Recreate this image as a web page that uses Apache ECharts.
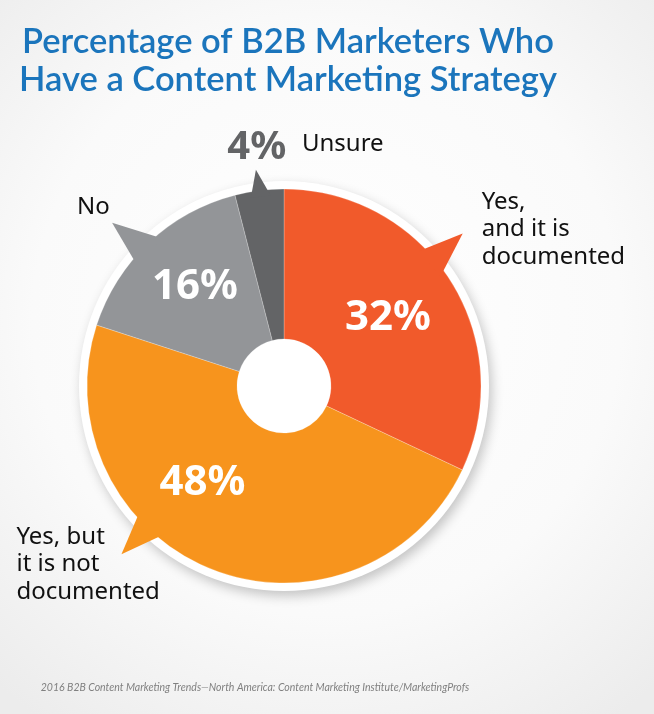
<!DOCTYPE html>
<html>
<head>
<meta charset="utf-8">
<script src="https://cdn.jsdelivr.net/npm/echarts@6/dist/echarts.min.js"></script>
<style>
  html, body { margin: 0; padding: 0; }
  #chart { width: 654px; height: 714px; }
</style>
</head>
<body>
<div id="chart"></div>
<script>
// data
const categories = ["Yes, and it is documented", "Yes, but it is not documented", "No", "Unsure"];
const share = [32, 48, 16, 4];
const labelLines = ["Yes,\nand it is\ndocumented", "Yes, but\nit is not\ndocumented", "No", "Unsure"];
const colors = ["#F15A2B", "#F7941D", "#939598", "#636466"];

// layout (pie center / radius, pointer + label placement)
const cx = 284, cy = 386, R = 197, r0 = 47;
const pointerAngle = [40, 226, 135, 97];
const tipShift = [0.5, 0, 1.5, 0.4];
const pointerHalf = [5, 5, 5.5, 3];
const pointerReach = [235, 234, 237, 218];
const pctAngle = [33, 230, 132, 96.5];
const pctRadius = [124, 127, 133, 240];
const nameOffset = [[19, -45], [-105, -31], [-35, -29], [46, -39]];

function polar(deg, rad) {
  const a = deg * Math.PI / 180;
  return [cx + rad * Math.cos(a), cy - rad * Math.sin(a)];
}

const chart = echarts.init(document.getElementById("chart"));

const renderPointer = (params, api) => {
  const i = params.dataIndex;
  const pa = pointerAngle[i];
  const tip = polar(pa + tipShift[i], pointerReach[i]);
  const p = polar(pctAngle[i], pctRadius[i]);
  const outside = i === 3;
  return {
    type: "group",
    children: [
      {
        type: "polygon",
        shape: { points: [polar(pa - pointerHalf[i], R - 6), tip, polar(pa + pointerHalf[i], R - 6)] },
        style: { fill: colors[i] },
      },
      {
        type: "text",
        z2: 10,
        style: {
          x: p[0], y: p[1],
          text: api.value(0) + "%",
          align: "center", verticalAlign: "middle",
          fill: outside ? colors[i] : "#fff",
          font: (outside ? "bold 40px" : "bold 42px") + " 'Noto Sans'",
        },
      },
      {
        type: "text",
        style: {
          x: tip[0] + nameOffset[i][0], y: tip[1] + nameOffset[i][1],
          text: labelLines[i],
          align: "left", verticalAlign: "top",
          lineHeight: 27.5,
          fill: "#111",
          font: "24px 'Noto Sans'",
        },
      },
    ],
  };
};

const option = {
  animation: false,
  backgroundColor: new echarts.graphic.RadialGradient(0.5, 0.45, 0.75, [
    { offset: 0, color: "#ffffff" },
    { offset: 0.6, color: "#fafafa" },
    { offset: 1, color: "#ececec" },
  ]),
  title: [
    {
      text: "Percentage of B2B Marketers Who\nHave a Content Marketing Strategy",
      left: 288,
      top: 23,
      padding: 0,
      textAlign: "center",
      textStyle: {
        color: "#1B75BC",
        fontFamily: "Lato",
        fontWeight: 600,
        fontSize: 34.5,
        lineHeight: 38,
      },
    },
    {
      text: "2016 B2B Content Marketing Trends\u2014North America: Content Marketing Institute/MarketingProfs",
      left: 255,
      top: 682,
      padding: 0,
      textAlign: "center",
      textStyle: {
        color: "#808080",
        fontFamily: "Lato",
        fontStyle: "italic",
        fontWeight: "normal",
        fontSize: 10.5,
        lineHeight: 12,
      },
    },
  ],
  graphic: [
    {
      type: "circle",
      z: 0,
      shape: { cx: cx, cy: cy, r: R + 8 },
      style: {
        fill: "#fff",
        shadowBlur: 12,
        shadowColor: "rgba(0,0,0,0.22)",
        shadowOffsetX: 3,
        shadowOffsetY: 5,
      },
    },
  ],
  series: [
    {
      type: "custom",
      coordinateSystem: "none",
      z: 3,
      silent: true,
      renderItem: renderPointer,
      data: share.map((v, i) => ({ value: v, name: categories[i] })),
    },
    {
      type: "pie",
      z: 2,
      center: [cx, cy],
      radius: [r0, R],
      startAngle: 90,
      clockwise: true,
      silent: true,
      label: { show: false },
      labelLine: { show: false },
      itemStyle: { borderColor: "rgba(255,255,255,0.4)", borderWidth: 0.6 },
      data: share.map((v, i) => ({
        value: v,
        name: categories[i],
        itemStyle: { color: colors[i] },
      })),
    },
  ],
};

chart.setOption(option);
</script>
</body>
</html>
